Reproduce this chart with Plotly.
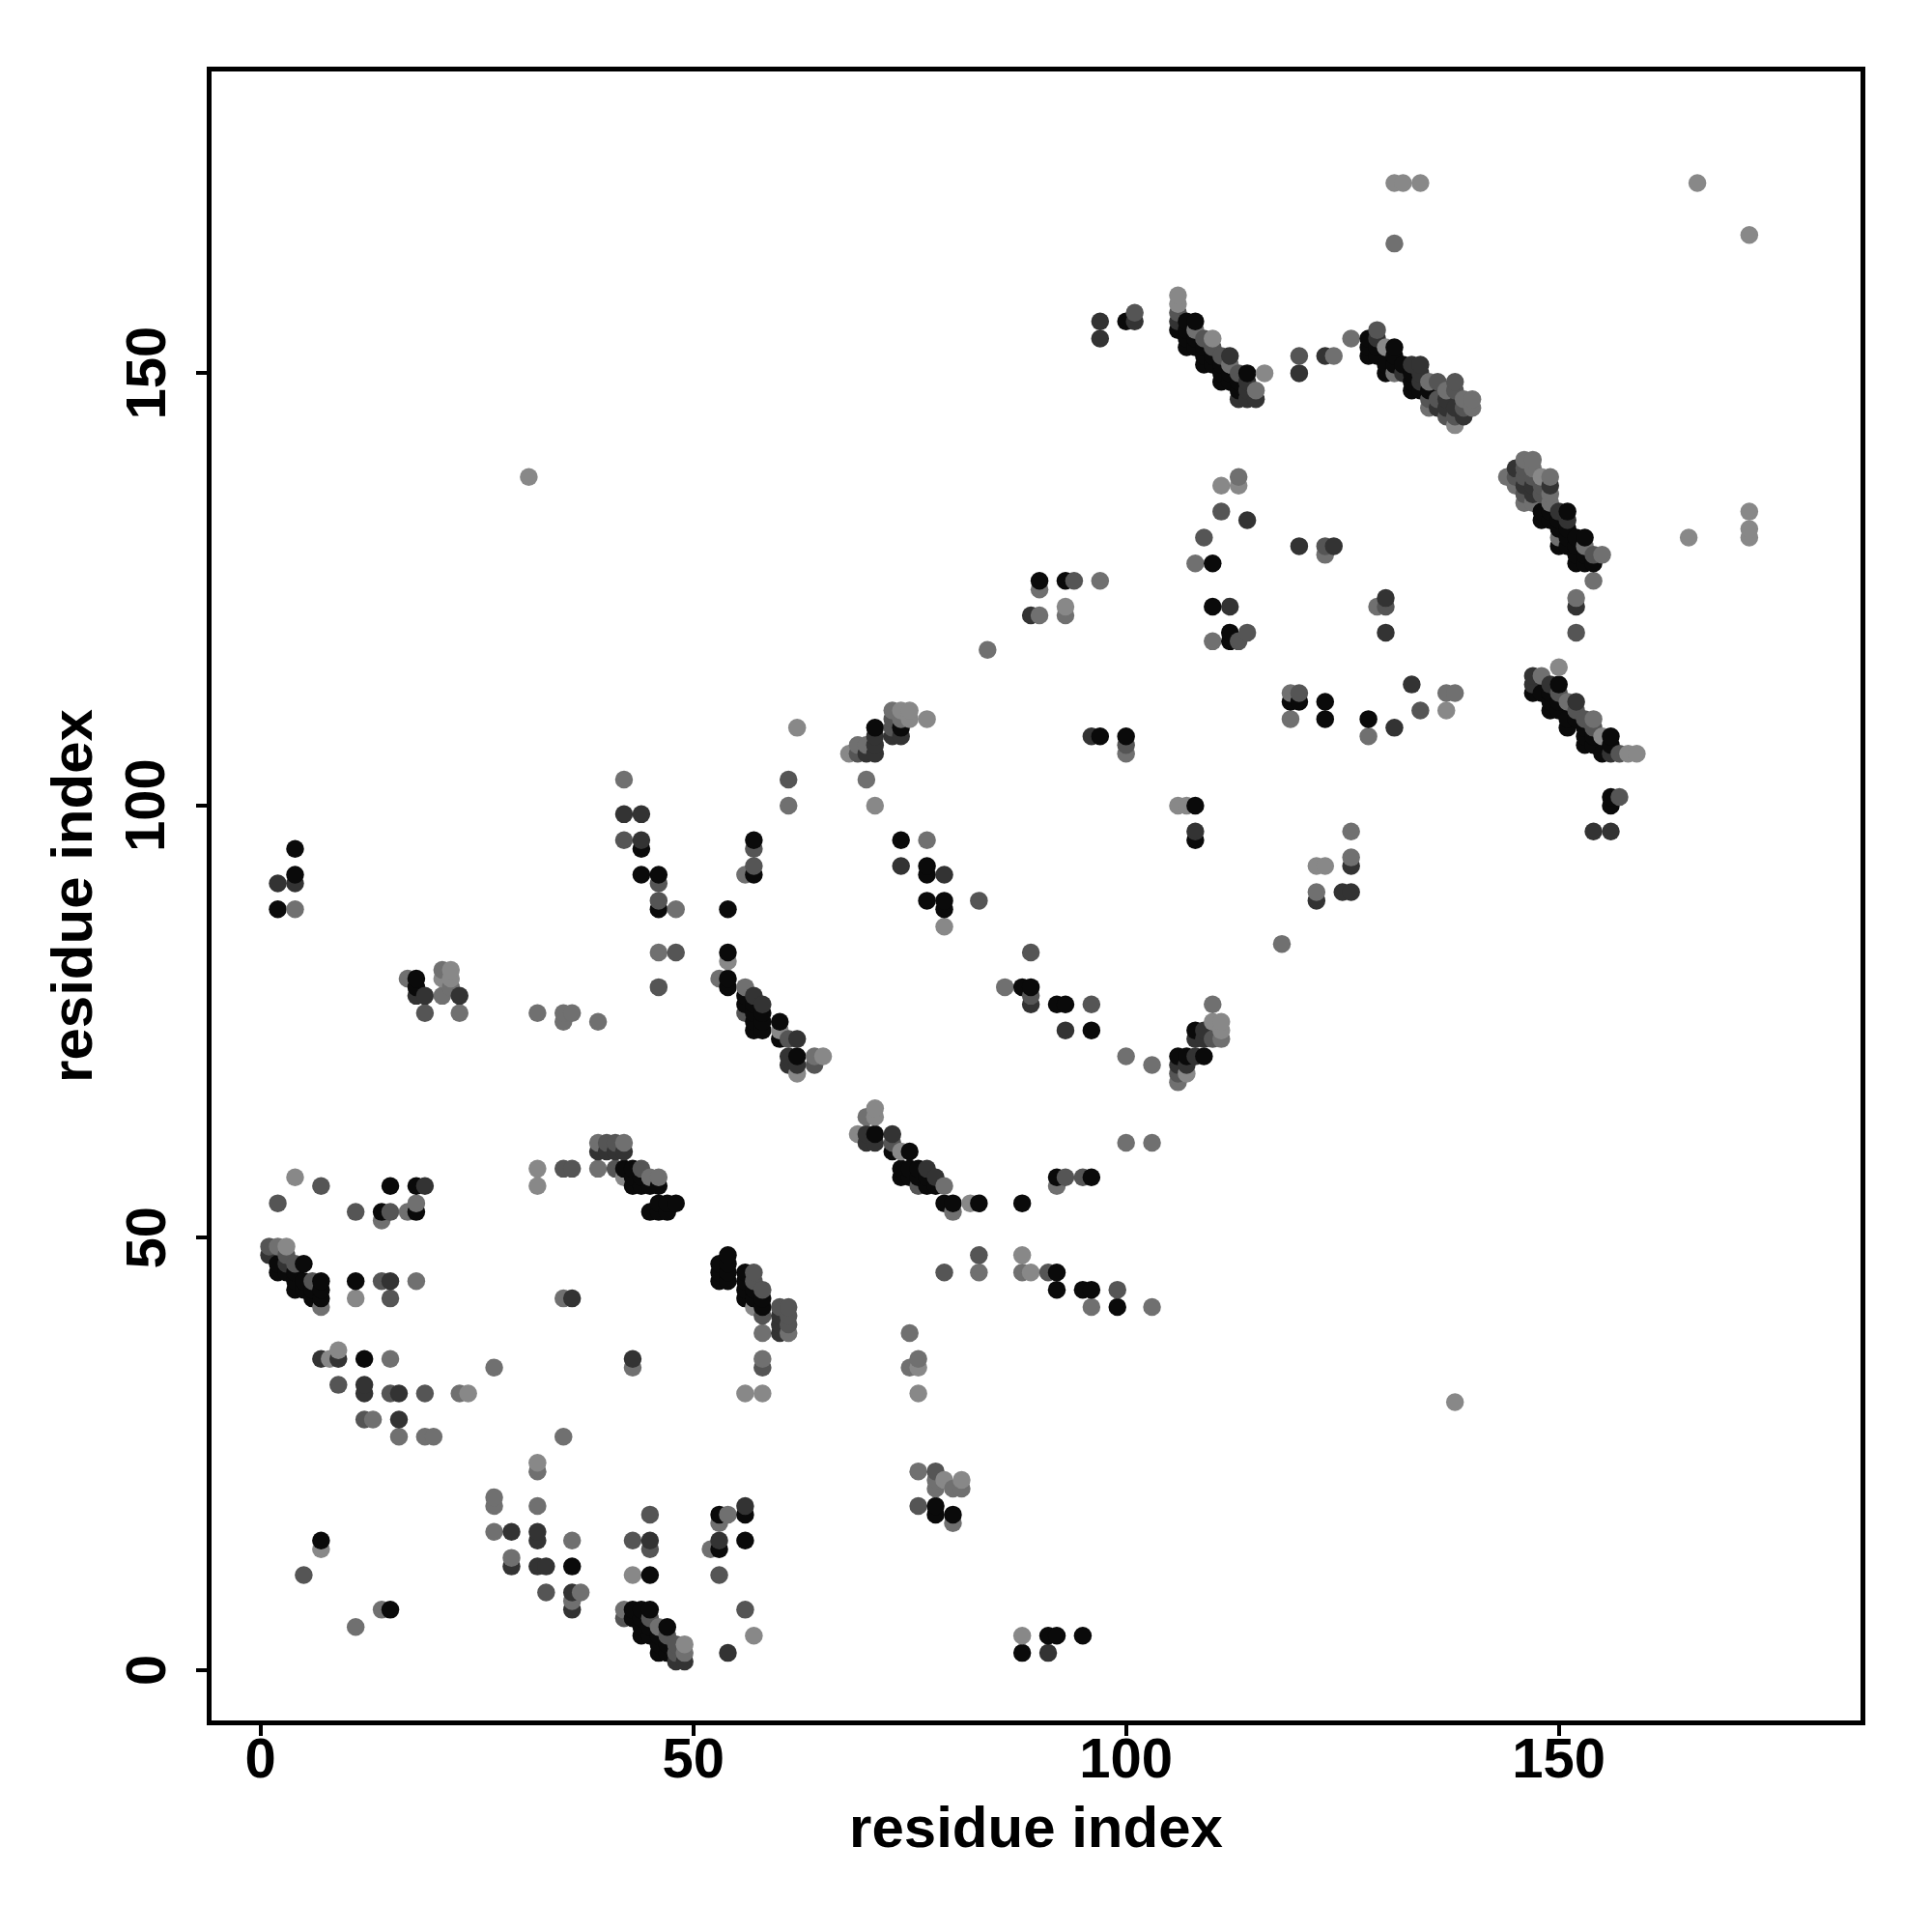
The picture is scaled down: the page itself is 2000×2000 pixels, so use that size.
import plotly.graph_objects as go

tick_values = [0, 50, 100, 150]
axis_label = "residue index"

# contacts (i, j) grouped by how dark the dot is
black = [(15,56),(18,56),(14,53),(18,53),(2,47),(2,46),(3,46),(5,47),(4,46),(4,45),(4,44),(5,45),(5,44),(6,44),(7,45),(7,44),(7,43),(6,43),(11,45),(12,36),(7,15),(15,7),
 (56,18),(53,18),(53,14),(56,15),(36,12),(45,11),(43,7),(43,6),(44,7),(45,7),(44,6),(44,5),(44,4),(45,5),(45,4),(47,5),(46,4),(46,3),(46,2),(47,3),(47,2),
 (88,2),(91,4),(92,4),(95,4),(78,19),(78,18),(80,18),(42,58),(43,58),(43,57),(44,57),(43,56),(44,56),(45,56),(46,56),(48,54),(47,54),(46,54),(45,53),(46,53),(47,53),
 (54,48),(53,47),(54,47),(53,46),(54,46),(53,45),(54,45),(56,46),(56,45),(56,44),(57,44),(56,43),(57,43),(58,43),(58,42),
 (54,83),(54,80),(54,79),(56,78),(56,77),(57,77),(57,76),(58,76),(57,75),(57,74),(58,74),(58,75),(60,75),(60,73),(62,71),(71,62),(75,60),(73,60),
 (74,58),(75,58),(76,58),(74,57),(75,57),(76,57),(77,57),(77,56),(78,56),(79,54),(80,54),(83,54),(88,54),(92,57),(96,57),(88,46),(92,46),(92,44),(95,44),(96,44),(99,42),
 (71,109),(74,109),(74,96),(77,93),(77,92),(77,89),(79,89),(79,88),(97,108),(100,108),(108,74),(106,71),(107,71),(109,71),(108,100),(108,96),(110,123),(112,120),(112,119),
 (128,110),(147,113),(148,113),(149,113),(150,114),(149,112),(149,111),(150,112),(150,111),(151,110),(151,109),(152,110),(153,109),(153,108),(153,107),(154,108),(154,107),(155,106),(156,108),(156,107),(156,101),(156,100),
 (101,156),(100,156),(106,155),(107,156),(108,156),(107,155),(107,154),(107,153),(108,154),(108,153),(109,153),(109,152),(109,151),(110,152),(110,151),(111,151),(111,150),(111,149),(112,150),(112,149),(113,149),(113,148),(114,150),
 (128,154),(128,153),(128,152),(129,153),(129,152),(131,153),(131,152),(130,151),(130,150),(131,151),(132,151),(133,150),(133,149),(133,148),(134,148),(135,148),
 (148,134),(148,133),(149,134),(149,133),(151,134),(150,133),(150,132),(150,130),(151,132),(151,131),(151,130),(152,131),(153,131),(152,130),(152,129),(152,128),(153,129),(153,128),(154,128),
 (119,112),(120,112),(123,112),(123,110),(90,126),(93,126),(4,92),(4,95),(2,88),(18,80),(18,79),(88,79),(89,79),(92,77),(93,77),(96,74),(46,88),(46,92),(44,92),(44,95),(54,88),(57,92),(57,96),(110,128)]

dark = [(19,56),(15,45),(1,48),(3,47),(7,36),(9,36),(12,33),(12,32),(16,32),(16,29),(56,19),(29,16),(32,16),(32,15),(45,15),(53,15),(29,12),(32,12),(33,12),(36,9),(36,7),(54,2),(91,2),(48,1),(49,1),
 (39,60),(40,60),(41,60),(42,60),(36,43),(60,41),(60,40),(60,39),(43,36),(57,78),(58,77),(62,73),(61,71),(61,70),(62,70),(70,62),(70,61),(71,61),(73,62),(77,58),(78,57),
 (73,108),(74,108),(71,108),(71,107),(71,106),(70,106),(74,93),(79,92),(96,108),(109,74),(108,73),(109,73),(108,71),(106,70),(107,70),
 (114,133),(120,130),(124,130),(130,124),(130,120),(133,114),(131,109),(147,115),(147,114),(149,114),(152,112),(156,106),(154,97),(156,97),(120,150),(123,152),
 (129,154),(132,150),(133,151),(134,151),(134,150),(134,149),(106,156),(112,152),(114,149),(114,148),(113,147),(114,147),(115,147),(145,139),(149,137),(150,134),(151,133),(152,123),
 (122,89),(125,90),(126,90),(126,93),(2,91),(4,91),(18,78),(19,78),(23,78),(93,74),(89,77),(97,156),(97,154),(101,156),(42,99),(44,99),(44,96),(89,122),(108,97),(112,123),
 (136,146),(137,146),(138,146),(139,145),(137,147),(146,137),(147,137),(147,136)]

mid = [(7,56),(2,54),(11,53),(15,53),(1,49),(3,48),(4,47),(6,45),(14,45),(15,43),(9,33),(15,32),(19,32),(12,29),(53,11),(45,14),(43,15),(33,9),(56,7),(45,18),
 (45,6),(42,6),(47,4),(48,3),(48,2),(40,61),(41,61),(35,58),(41,58),(44,58),(36,58),(60,42),(61,42),(61,41),(61,40),(57,46),(57,45),(58,44),(58,41),(58,35),(56,76),(61,73),(64,70),(73,61),
 (76,56),(83,48),(79,46),(91,46),(93,57),(95,57),(99,44),(73,110),(73,109),(69,106),(83,89),(89,83),(110,73),(106,69),(113,119),(111,134),(109,131),(123,130),(130,123),
 (134,111),(150,113),(152,111),(153,110),(154,109),(157,106),(157,101),(154,129),(129,155),(120,152),(136,147),(138,149),(138,145),(139,146),(135,147),(137,145),(138,148),(136,149),
 (101,157),(106,157),(109,154),(110,153),(111,152),(113,150),(146,139),(146,138),(146,136),(147,138),(148,137),(148,136),(145,138),
 (152,120),(5,11),(46,79),(48,83),(46,89),(46,91),(42,96),(57,95),(61,103),(19,76),(89,78),(96,77),(114,120),(94,126),(78,23),(76,19),(57,93),(100,107),(120,113)]

gray = [(17,53),(18,54),(14,52),(2,49),(18,45),(7,42),(15,36),(27,35),(23,32),(13,29),(16,27),(19,27),(20,27),(35,27),(32,23),(27,20),(27,19),(32,19),(27,16),(36,15),(29,13),(37,9),(36,8),(42,7),(46,5),(49,2),(14,7),
 (11,5),(43,35),(52,14),(53,17),(54,18),(39,61),(42,61),(39,58),(45,57),(46,57),(35,43),(58,39),(61,39),(58,36),(56,79),(53,80),(64,71),(70,64),(79,56),(80,53),(88,46),(92,56),(83,46),(96,42),(103,42),
 (100,61),(103,61),(73,111),(74,110),(69,107),(70,107),(70,103),(77,96),(110,77),(111,73),(103,70),(100,71),(118,84),(106,68),(84,118),(90,122),(93,122),(90,125),(97,126),(113,138),(108,128),(110,119),(129,123),(123,129),
 (119,113),(119,110),(128,108),(138,113),(137,113),(122,90),(126,97),(126,94),(148,115),(151,112),(154,110),(153,130),(150,131),(155,129),(154,126),(152,124),(100,106),
 (144,138),(145,137),(146,140),(147,140),(147,139),(146,135),(147,135),(149,138),(149,136),(149,135),(135,149),(135,146),(137,148),(139,147),(140,147),(140,146),
 (126,154),(124,152),(131,150),(108,155),(112,151),(115,148),(131,165),(75,39),(75,35),(76,36),(76,23),(78,22),(78,21),(80,21),(81,21),(80,17),(4,88),(17,80),(21,81),(21,78),(22,79),(32,76),(35,76),(36,76),(35,75),(39,75),(46,83),(48,88),(56,92),(42,103),(61,100),(86,79),(23,76)]

light = [(4,57),(3,49),(11,43),(8,36),(9,37),(24,32),(32,24),(43,11),(49,3),(57,4),(56,32),(58,32),(32,58),(32,56),(7,14),(42,57),(57,42),(54,82),(60,74),(62,69),(65,71),(71,65),(71,64),(69,62),(74,60),(82,54),(88,48),(89,46),(88,4),
 (77,110),(74,111),(75,111),(75,110),(68,106),(71,100),(79,86),(62,109),(110,75),(111,75),(111,74),(107,69),(113,137),(111,137),(137,111),(150,116),(155,108),(158,106),(159,106),(123,93),(122,93),
 (138,144),(130,153),(106,159),(106,158),(110,154),(116,150),(148,138),(131,172),(132,172),(134,172),(166,172),(172,166),(165,131),(172,134),(172,132),(172,131),(31,138),(138,31),(76,35),(76,32),(79,22),(81,22),(22,81),(21,80),(22,80),(106,100),(107,100),(93,123)]

shades = {"#0a0a0a": black, "#333333": dark, "#555555": mid, "#707070": gray, "#888888": light}

seen = {}
for colour, pts in shades.items():
    for p in pts:
        seen[p] = colour
order = sorted(seen)
xs = [p[0] for p in order]
ys = [p[1] for p in order]
cs = [seen[p] for p in order]

fig = go.Figure(go.Scatter(x=xs, y=ys, mode="markers", marker=dict(size=18.5, color=cs, line=dict(width=0)),
                           showlegend=False, hoverinfo="skip"))
tick_font = dict(family="Liberation Sans", size=58, color="black", weight="bold")
title_font = dict(family="Liberation Sans", size=60, color="black", weight="bold")
axis = dict(tickvals=tick_values, ticks="outside", ticklen=11, tickwidth=3.5, tickcolor="black",
            showline=True, linecolor="black", linewidth=5, mirror=True, showgrid=False, zeroline=False,
            tickfont=tick_font)
fig.update_layout(width=2000, height=2000, autosize=False, paper_bgcolor="white", plot_bgcolor="white",
                  margin=dict(l=219, r=74, t=74, b=219),
                  xaxis=dict(axis, range=[-5.65, 184.85], ticklabelstandoff=-27,
                             title=dict(text=axis_label, font=title_font, standoff=21)),
                  yaxis=dict(axis, range=[-5.81, 184.9], showticklabels=False,
                             title=dict(text=axis_label, font=title_font, standoff=90)))
for v in tick_values:
    fig.add_annotation(x=-0.0404, xref="paper", y=v, yref="y", text=str(v), textangle=-90, showarrow=False,
                       font=tick_font, xanchor="center", yanchor="middle")
fig.write_html("out.html", post_script="document.body.style.margin='0';", config=dict(displayModeBar=False))
